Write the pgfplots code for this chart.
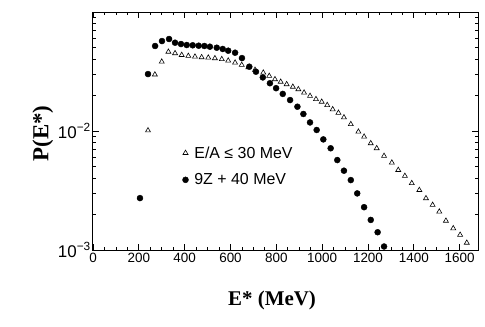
\documentclass[border=0pt]{standalone}
\usepackage{fontspec}
\setmainfont{Liberation Serif}
\setsansfont{Liberation Sans}
\usepackage{pgfplots}
\pgfplotsset{compat=1.18}

\begin{document}
\begin{tikzpicture}
\begin{axis}[
    at={(0,0)}, anchor=south west,
    scale only axis,
    width=385bp, height=238bp,
    ymode=log,
    xmin=0, xmax=1680, ymin=1e-3, ymax=1e-1,
    axis line style={line width=1bp},
    every tick/.style={black, line width=0.8bp},
    tick align=inside,
    major tick length=6bp, minor tick length=3.5bp,
    xtick={0,200,...,1600},
    minor x tick num=3,
    ytick={1e-3,1e-2,1e-1},
    yticklabels={10\textsuperscript{−3},10\textsuperscript{−2},{}},
    minor ytick={0.002,0.003,0.004,0.005,0.006,0.007,0.008,0.009,
                 0.02,0.03,0.04,0.05,0.06,0.07,0.08,0.09},
    /pgf/number format/assume math mode=true,
    /pgf/number format/set thousands separator={},
    xticklabel style={font=\sffamily\fontsize{13.5}{14}\selectfont, inner sep=0pt, yshift=-3bp},
    yticklabel style={font=\sffamily\fontsize{17}{18}\selectfont, inner sep=0pt, xshift=-2bp},
    xlabel={\bfseries E* (MeV)},
    ylabel={\bfseries P(E*)},
    xlabel style={font=\fontsize{21}{24}\selectfont, at={(axis description cs:0.465,-0.21)}, anchor=center},
    ylabel style={font=\fontsize{23}{26}\selectfont, at={(axis description cs:-0.13,0.49)}, anchor=center},
    legend style={draw=none, fill=none, at={(axis description cs:0.232,0.44)}, anchor=north west,
        font=\sffamily\fontsize{16}{18}\selectfont, row sep=12bp, inner sep=0pt,
        nodes={inner sep=1bp}},
    legend image code/.code={\draw[#1] plot coordinates {(0cm,0cm)}; \path (0.27cm,0cm);},
    legend cell align=left,
]
\addplot[only marks, mark=triangle, mark size=2.9bp, mark options={line width=0.6bp, fill=white}] coordinates {
(240,0.0101) (270,0.0298) (300,0.0382) (329,0.0463) (358,0.0450) (387,0.0435)
(416,0.0427) (445,0.0421) (474,0.0416) (503,0.0413) (532,0.0408) (562,0.0401)
(590,0.0390) (620,0.0375) (649,0.0359) (678,0.0343) (707,0.0326) (743,0.0309)
(769,0.0290) (794,0.0272) (819,0.0259) (845,0.0247) (872,0.0235) (896,0.0224)
(921,0.0210) (947,0.0197) (973,0.0185) (998,0.0176) (1022,0.0165) (1046,0.0152)
(1071,0.0142) (1095,0.0130) (1125,0.0114) (1158,0.00986) (1183,0.00895) (1212,0.00788)
(1238,0.00716) (1270,0.00617) (1304,0.00542) (1332,0.00470) (1361,0.00419) (1391,0.00364)
(1424,0.00319) (1453,0.00272) (1482,0.00239) (1511,0.00210) (1540,0.00176) (1572,0.00152)
(1602,0.00134) (1631,0.00115)
};
\addlegendentry{E/A ≤ 30 MeV}
\addplot[only marks, mark=*, mark size=3bp, fill=black] coordinates {
(205,0.00273) (240,0.0301) (271,0.0518) (301,0.0570) (332,0.0593) (358,0.0552)
(384,0.0538) (409,0.0528) (435,0.0525) (461,0.0521) (486,0.0518) (510,0.0511)
(540,0.0501) (566,0.0489) (590,0.0473) (620,0.0455) (650,0.0410) (682,0.0347)
(711,0.0315) (741,0.0282) (772,0.0252) (799,0.0229) (828,0.0205) (860,0.0182)
(892,0.0160) (918,0.0139) (947,0.0118) (976,0.0102) (1005,0.0085) (1037,0.00716)
(1066,0.00570) (1095,0.00464) (1125,0.00387) (1153,0.00299) (1183,0.00229) (1212,0.00179)
(1242,0.00141) (1270,0.00107)
};
\addlegendentry{9Z + 40 MeV}
\end{axis}
\path[use as bounding box] (-93bp,-77bp) rectangle (392bp,250bp);
\end{tikzpicture}
\end{document}
